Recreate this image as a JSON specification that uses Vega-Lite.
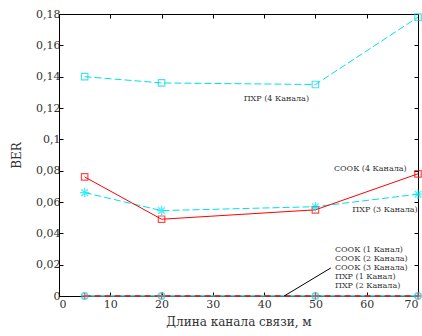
{
  "$schema": "https://vega.github.io/schema/vega-lite/v6.json",
  "width": 359,
  "height": 282,
  "autosize": {"type": "none"},
  "padding": {"left": 59, "top": 14, "right": 4, "bottom": 40},
  "background": "white",
  "config": {
    "view": {"stroke": "black", "strokeWidth": 1},
    "font": "DejaVu Serif",
    "axis": {
      "grid": false,
      "domainColor": "black",
      "tickColor": "black",
      "tickSize": -4,
      "labelFont": "DejaVu Serif",
      "labelFontSize": 11,
      "labelColor": "#333",
      "titleFont": "DejaVu Serif",
      "titleFontSize": 12,
      "titleFontWeight": "normal",
      "titleColor": "#333"
    }
  },
  "datasets": {
    "pts": [
      {"s": "ПХР 4", "x": 5, "y": 0.14},
      {"s": "ПХР 4", "x": 20, "y": 0.136},
      {"s": "ПХР 4", "x": 50, "y": 0.135},
      {"s": "ПХР 4", "x": 70, "y": 0.178},
      {"s": "ПХР 3", "x": 5, "y": 0.066},
      {"s": "ПХР 3", "x": 20, "y": 0.0545},
      {"s": "ПХР 3", "x": 50, "y": 0.057},
      {"s": "ПХР 3", "x": 70, "y": 0.065},
      {"s": "СООК 4", "x": 5, "y": 0.076},
      {"s": "СООК 4", "x": 20, "y": 0.049},
      {"s": "СООК 4", "x": 50, "y": 0.055},
      {"s": "СООК 4", "x": 70, "y": 0.078},
      {"s": "ПХР 1", "x": 5, "y": 0},
      {"s": "ПХР 1", "x": 20, "y": 0},
      {"s": "ПХР 1", "x": 50, "y": 0},
      {"s": "ПХР 1", "x": 70, "y": 0},
      {"s": "СООК 1", "x": 5, "y": 0},
      {"s": "СООК 1", "x": 20, "y": 0},
      {"s": "СООК 1", "x": 50, "y": 0},
      {"s": "СООК 1", "x": 70, "y": 0}
    ],
    "ann": [
      {"x": 43.9, "y": 0, "x2": 53.0, "y2": 0.0179}
    ],
    "labels": [
      {"t": "ПХР (4 Канала)", "x": 36.0, "y": 0.1255},
      {"t": "СООК (4 Канала)", "x": 53.6, "y": 0.0811},
      {"t": "ПХР (3 Канала)", "x": 57.2, "y": 0.0551},
      {"t": "СООК (1 Канал)", "x": 53.8, "y": 0.0296},
      {"t": "СООК (2 Канала)", "x": 53.8, "y": 0.0238},
      {"t": "СООК (3 Канала)", "x": 53.8, "y": 0.0179},
      {"t": "ПХР (1 Канал)", "x": 53.8, "y": 0.0121},
      {"t": "ПХР (2 Канала)", "x": 53.8, "y": 0.0064}
    ]
  },
  "resolve": {"axis": {"x": "independent", "y": "independent"}},
  "layer": [
    {
      "data": {"name": "pts"},
      "transform": [{"filter": "datum.s == 'ПХР 1'"}],
      "mark": {"type": "line", "color": "#00d8e0", "strokeWidth": 1.6},
      "encoding": {
        "x": {"field": "x", "type": "quantitative", "scale": {"domain": [0, 70], "nice": false},
          "axis": {"orient": "bottom", "values": [0,10,20,30,40,50,60,70], "title": "Длина канала связи, м", "labelPadding": 6, "titlePadding": 7}},
        "y": {"field": "y", "type": "quantitative", "scale": {"domain": [0, 0.18], "nice": false, "zero": true},
          "axis": {"orient": "left", "values": [0,0.02,0.04,0.06,0.08,0.1,0.12,0.14,0.16,0.18], "labelExpr": "replace(format(datum.value, '.2~f'), '.', ',')", "title": "BER", "labelPadding": 3, "titlePadding": 12}}
      }
    },
    {
      "data": {"name": "pts"},
      "transform": [{"filter": "datum.s == 'СООК 1'"}],
      "mark": {"type": "line", "color": "#ff0000", "strokeWidth": 1.6, "strokeDash": [6, 4]},
      "encoding": {
        "x": {"field": "x", "type": "quantitative", "axis": {"orient": "top", "values": [0,10,20,30,40,50,60,70], "labels": false, "title": null, "domain": false}},
        "y": {"field": "y", "type": "quantitative", "axis": {"orient": "right", "values": [0,0.02,0.04,0.06,0.08,0.1,0.12,0.14,0.16,0.18], "labels": false, "title": null, "domain": false}}
      }
    },
    {
      "data": {"name": "pts"},
      "transform": [{"filter": "datum.s == 'ПХР 4'"}],
      "mark": {"type": "line", "color": "#00e0e8", "strokeWidth": 1, "strokeDash": [7, 3]},
      "encoding": {
        "x": {"field": "x", "type": "quantitative", "axis": null},
        "y": {"field": "y", "type": "quantitative", "axis": null}
      }
    },
    {
      "data": {"name": "pts"},
      "transform": [{"filter": "datum.s == 'ПХР 3'"}],
      "mark": {"type": "line", "color": "#00e0e8", "strokeWidth": 1, "strokeDash": [7, 3]},
      "encoding": {
        "x": {"field": "x", "type": "quantitative", "axis": null},
        "y": {"field": "y", "type": "quantitative", "axis": null}
      }
    },
    {
      "data": {"name": "pts"},
      "transform": [{"filter": "datum.s == 'СООК 4'"}],
      "mark": {"type": "line", "color": "#ff0000", "strokeWidth": 1},
      "encoding": {
        "x": {"field": "x", "type": "quantitative", "axis": null},
        "y": {"field": "y", "type": "quantitative", "axis": null}
      }
    },
    {
      "data": {"name": "pts"},
      "transform": [{"filter": "datum.s == 'ПХР 4'"}],
      "mark": {"type": "point", "shape": "square", "filled": false, "color": "#00d8e0", "strokeWidth": 1.2, "size": 42},
      "encoding": {
        "x": {"field": "x", "type": "quantitative", "axis": null},
        "y": {"field": "y", "type": "quantitative", "axis": null}
      }
    },
    {
      "data": {"name": "pts"},
      "transform": [{"filter": "datum.s == 'СООК 4'"}],
      "mark": {"type": "point", "shape": "square", "filled": false, "color": "#ff0000", "strokeWidth": 1.2, "size": 42},
      "encoding": {
        "x": {"field": "x", "type": "quantitative", "axis": null},
        "y": {"field": "y", "type": "quantitative", "axis": null}
      }
    },
    {
      "data": {"name": "pts"},
      "transform": [{"filter": "datum.s == 'ПХР 3'"}],
      "mark": {"type": "point", "shape": "M-1,0L1,0M0,-1L0,1M-0.7,-0.7L0.7,0.7M-0.7,0.7L0.7,-0.7", "filled": false, "color": "#00e8f0", "strokeWidth": 1.3, "size": 90},
      "encoding": {
        "x": {"field": "x", "type": "quantitative", "axis": null},
        "y": {"field": "y", "type": "quantitative", "axis": null}
      }
    },
    {
      "data": {"name": "pts"},
      "transform": [{"filter": "datum.s == 'ПХР 1'"}],
      "mark": {"type": "point", "shape": "M-1,0A1,1 0 1,0 1,0A1,1 0 1,0 -1,0M-1,0L1,0M0,-1L0,1", "filled": false, "color": "#30c8d0", "strokeWidth": 1.6, "size": 40},
      "encoding": {
        "x": {"field": "x", "type": "quantitative", "axis": null},
        "y": {"field": "y", "type": "quantitative", "axis": null}
      }
    },
    {
      "data": {"name": "pts"},
      "transform": [{"filter": "datum.s == 'СООК 1'"}],
      "mark": {"type": "point", "shape": "M-1,0L1,0M0,-1L0,1", "filled": false, "color": "#ff3030", "strokeWidth": 1, "size": 40},
      "encoding": {
        "x": {"field": "x", "type": "quantitative", "axis": null},
        "y": {"field": "y", "type": "quantitative", "axis": null}
      }
    },
    {
      "data": {"name": "ann"},
      "mark": {"type": "rule", "color": "black", "strokeWidth": 1},
      "encoding": {
        "x": {"field": "x", "type": "quantitative", "axis": null},
        "y": {"field": "y", "type": "quantitative", "axis": null},
        "x2": {"field": "x2"},
        "y2": {"field": "y2"}
      }
    },
    {
      "data": {"name": "labels"},
      "mark": {"type": "text", "align": "left", "baseline": "middle", "font": "DejaVu Serif", "fontSize": 8, "color": "#333"},
      "encoding": {
        "x": {"field": "x", "type": "quantitative", "axis": null},
        "y": {"field": "y", "type": "quantitative", "axis": null},
        "text": {"field": "t"}
      }
    }
  ]
}
